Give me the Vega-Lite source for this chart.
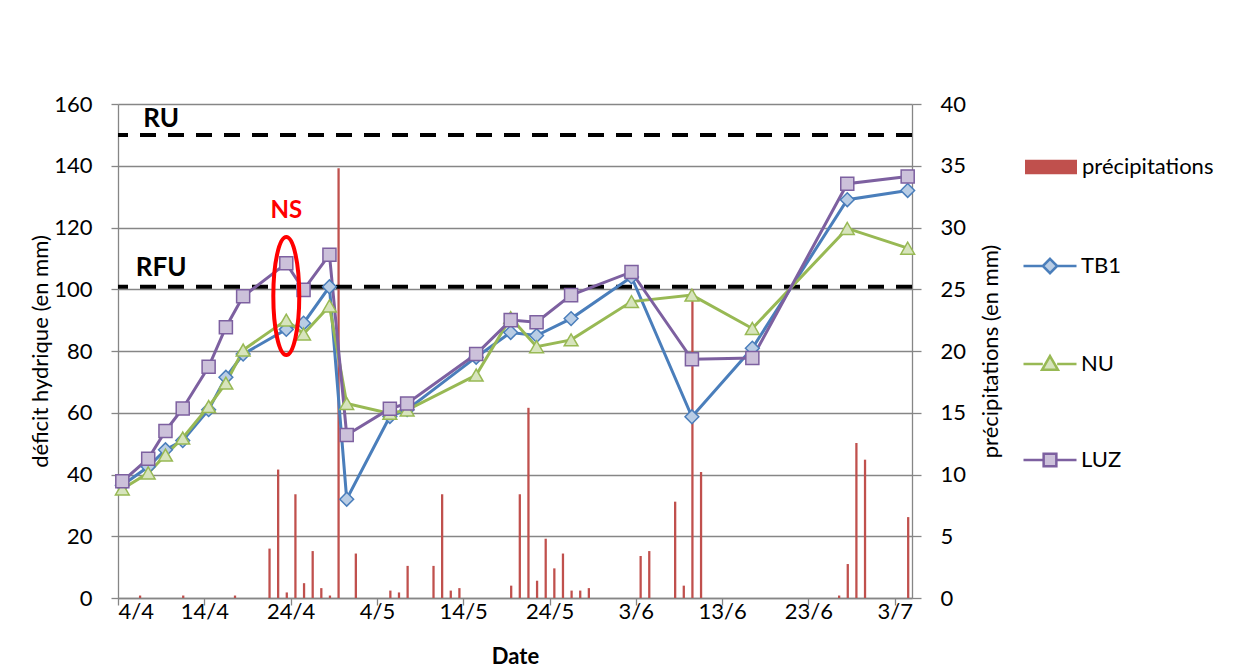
{
  "$schema": "https://vega.github.io/schema/vega-lite/v6.json",
  "width": 794,
  "height": 494,
  "autosize": "none",
  "padding": {"left": 118, "top": 104, "right": 322, "bottom": 70},
  "background": "white",
  "config": {
    "view": {"stroke": null},
    "font": "Lato",
    "axis": {
      "labelFont": "Lato", "labelFontSize": 22, "labelColor": "#000000",
      "titleFont": "Lato", "titleFontSize": 22, "titleColor": "#000000", "titleFontWeight": "normal",
      "domainColor": "#868686", "domainWidth": 1.3, "tickColor": "#868686", "tickWidth": 1.3, "tickSize": 7,
      "gridColor": "#868686", "gridWidth": 1.3
    }
  },
  "datasets": {
    "precip": [
      {"date": "2013-04-06", "mm": 0.2}, {"date": "2013-04-11", "mm": 0.2}, {"date": "2013-04-17", "mm": 0.2},
      {"date": "2013-04-21", "mm": 4.0}, {"date": "2013-04-22", "mm": 10.4}, {"date": "2013-04-23", "mm": 0.45},
      {"date": "2013-04-24", "mm": 8.4}, {"date": "2013-04-25", "mm": 1.2}, {"date": "2013-04-26", "mm": 3.8},
      {"date": "2013-04-27", "mm": 0.8}, {"date": "2013-04-28", "mm": 0.2}, {"date": "2013-04-29", "mm": 34.8},
      {"date": "2013-05-01", "mm": 3.6}, {"date": "2013-05-05", "mm": 0.6}, {"date": "2013-05-06", "mm": 0.45},
      {"date": "2013-05-07", "mm": 2.6}, {"date": "2013-05-10", "mm": 2.6}, {"date": "2013-05-11", "mm": 8.4},
      {"date": "2013-05-12", "mm": 0.6}, {"date": "2013-05-13", "mm": 0.8}, {"date": "2013-05-19", "mm": 1.0},
      {"date": "2013-05-20", "mm": 8.4}, {"date": "2013-05-21", "mm": 15.4}, {"date": "2013-05-22", "mm": 1.4},
      {"date": "2013-05-23", "mm": 4.8}, {"date": "2013-05-24", "mm": 2.4}, {"date": "2013-05-25", "mm": 3.6},
      {"date": "2013-05-26", "mm": 0.6}, {"date": "2013-05-27", "mm": 0.6}, {"date": "2013-05-28", "mm": 0.8},
      {"date": "2013-06-03", "mm": 3.4}, {"date": "2013-06-04", "mm": 3.8}, {"date": "2013-06-07", "mm": 7.8},
      {"date": "2013-06-08", "mm": 1.0}, {"date": "2013-06-09", "mm": 25.0}, {"date": "2013-06-10", "mm": 10.2},
      {"date": "2013-06-26", "mm": 0.2}, {"date": "2013-06-27", "mm": 2.75}, {"date": "2013-06-28", "mm": 12.55},
      {"date": "2013-06-29", "mm": 11.2}, {"date": "2013-07-04", "mm": 6.55}
    ],
    "deficit": [
      {"date": "2013-04-04", "series": "TB1", "value": 36.5}, {"date": "2013-04-07", "series": "TB1", "value": 42.5},
      {"date": "2013-04-09", "series": "TB1", "value": 48}, {"date": "2013-04-11", "series": "TB1", "value": 51},
      {"date": "2013-04-14", "series": "TB1", "value": 61}, {"date": "2013-04-16", "series": "TB1", "value": 71.5},
      {"date": "2013-04-18", "series": "TB1", "value": 79}, {"date": "2013-04-23", "series": "TB1", "value": 87},
      {"date": "2013-04-25", "series": "TB1", "value": 89}, {"date": "2013-04-28", "series": "TB1", "value": 100.8},
      {"date": "2013-04-30", "series": "TB1", "value": 32}, {"date": "2013-05-05", "series": "TB1", "value": 58.8},
      {"date": "2013-05-07", "series": "TB1", "value": 61}, {"date": "2013-05-15", "series": "TB1", "value": 78},
      {"date": "2013-05-19", "series": "TB1", "value": 86}, {"date": "2013-05-22", "series": "TB1", "value": 85},
      {"date": "2013-05-26", "series": "TB1", "value": 90.5}, {"date": "2013-06-02", "series": "TB1", "value": 104},
      {"date": "2013-06-09", "series": "TB1", "value": 58.7}, {"date": "2013-06-16", "series": "TB1", "value": 80.9},
      {"date": "2013-06-27", "series": "TB1", "value": 129}, {"date": "2013-07-04", "series": "TB1", "value": 132},
      {"date": "2013-04-04", "series": "NU", "value": 35.3}, {"date": "2013-04-07", "series": "NU", "value": 40.5},
      {"date": "2013-04-09", "series": "NU", "value": 46.3}, {"date": "2013-04-11", "series": "NU", "value": 51.8},
      {"date": "2013-04-14", "series": "NU", "value": 62}, {"date": "2013-04-16", "series": "NU", "value": 69.6},
      {"date": "2013-04-18", "series": "NU", "value": 80.3}, {"date": "2013-04-23", "series": "NU", "value": 90},
      {"date": "2013-04-25", "series": "NU", "value": 85.5}, {"date": "2013-04-28", "series": "NU", "value": 94.6},
      {"date": "2013-04-30", "series": "NU", "value": 63}, {"date": "2013-05-05", "series": "NU", "value": 59.8},
      {"date": "2013-05-07", "series": "NU", "value": 60.9}, {"date": "2013-05-15", "series": "NU", "value": 72.2},
      {"date": "2013-05-19", "series": "NU", "value": 90.8}, {"date": "2013-05-22", "series": "NU", "value": 81.4},
      {"date": "2013-05-26", "series": "NU", "value": 83.6}, {"date": "2013-06-02", "series": "NU", "value": 96},
      {"date": "2013-06-09", "series": "NU", "value": 98.1}, {"date": "2013-06-16", "series": "NU", "value": 87.3},
      {"date": "2013-06-27", "series": "NU", "value": 119.7}, {"date": "2013-07-04", "series": "NU", "value": 113.3},
      {"date": "2013-04-04", "series": "LUZ", "value": 37.8}, {"date": "2013-04-07", "series": "LUZ", "value": 45.1},
      {"date": "2013-04-09", "series": "LUZ", "value": 54.1}, {"date": "2013-04-11", "series": "LUZ", "value": 61.4},
      {"date": "2013-04-14", "series": "LUZ", "value": 74.9}, {"date": "2013-04-16", "series": "LUZ", "value": 87.7},
      {"date": "2013-04-18", "series": "LUZ", "value": 97.7}, {"date": "2013-04-23", "series": "LUZ", "value": 108.4},
      {"date": "2013-04-25", "series": "LUZ", "value": 99.8}, {"date": "2013-04-28", "series": "LUZ", "value": 111.2},
      {"date": "2013-04-30", "series": "LUZ", "value": 52.8}, {"date": "2013-05-05", "series": "LUZ", "value": 61.3},
      {"date": "2013-05-07", "series": "LUZ", "value": 63}, {"date": "2013-05-15", "series": "LUZ", "value": 79},
      {"date": "2013-05-19", "series": "LUZ", "value": 90}, {"date": "2013-05-22", "series": "LUZ", "value": 89.3},
      {"date": "2013-05-26", "series": "LUZ", "value": 98.1}, {"date": "2013-06-02", "series": "LUZ", "value": 105.6},
      {"date": "2013-06-09", "series": "LUZ", "value": 77.3}, {"date": "2013-06-16", "series": "LUZ", "value": 77.7},
      {"date": "2013-06-27", "series": "LUZ", "value": 134.2}, {"date": "2013-07-04", "series": "LUZ", "value": 136.5}
    ],
    "levels": [
      {"name": "RU", "level": 150, "date": "2013-04-09", "labelValue": 155},
      {"name": "RFU", "level": 100.8, "date": "2013-04-09", "labelValue": 106.8}
    ],
    "ns": [
      {"label": "NS", "date": "2013-04-23", "labelValue": 125.3, "value": 97.8}
    ]
  },
  "layer": [
    {
      "data": {"name": "precip"},
      "mark": {"type": "bar", "color": "#C0504D", "width": {"band": 0.38}},
      "encoding": {
        "x": {
          "field": "date", "type": "temporal", "timeUnit": "yearmonthdate",
          "scale": {"domain": [{"year": 2013, "month": 4, "date": 4}, {"year": 2013, "month": 7, "date": 5}]},
          "axis": {
            "title": "Date", "titleFontWeight": "bold", "titleY": 58, "titleBaseline": "middle",
            "format": "%-d/%-m", "labelPadding": -4, "grid": false, "domain": true,
            "values": [
              {"year": 2013, "month": 4, "date": 4}, {"year": 2013, "month": 4, "date": 14},
              {"year": 2013, "month": 4, "date": 24}, {"year": 2013, "month": 5, "date": 4},
              {"year": 2013, "month": 5, "date": 14}, {"year": 2013, "month": 5, "date": 24},
              {"year": 2013, "month": 6, "date": 3}, {"year": 2013, "month": 6, "date": 13},
              {"year": 2013, "month": 6, "date": 23}, {"year": 2013, "month": 7, "date": 3}
            ]
          }
        },
        "y": {
          "field": "mm", "type": "quantitative",
          "scale": {"domain": [0, 40], "nice": false},
          "axis": {
            "orient": "right", "title": "précipitations (en mm)", "grid": false,
            "values": [0, 5, 10, 15, 20, 25, 30, 35, 40], "labelPadding": 19, "tickSize": 9,
            "titleAngle": -90, "titleX": 78, "titleY": 247, "titleBaseline": "middle", "titleAlign": "center"
          }
        },
        "fill": {
          "datum": "précipitations", "type": "nominal",
          "scale": {"range": ["#C0504D"]},
          "legend": {
            "title": null, "orient": "none", "legendX": 907, "legendY": 37,
            "symbolType": "M-1,-0.28H1V0.28H-1Z", "symbolSize": 2704, "symbolStrokeWidth": 0,
            "labelFont": "Lato", "labelFontSize": 22, "labelColor": "#000000", "labelOffset": 5, "padding": 0
          }
        }
      }
    },
    {
      "layer": [
        {
          "data": {"name": "levels"},
          "mark": {"type": "rule", "color": "#000000", "strokeWidth": 4, "strokeDash": [16, 12]},
          "encoding": {
            "y": {"field": "level", "type": "quantitative", "scale": {"domain": [0, 160], "nice": false},
              "axis": {"title": "déficit hydrique  (en mm)", "values": [0, 20, 40, 60, 80, 100, 120, 140, 160],
                "grid": true, "labelPadding": 19, "titleAngle": -90, "titleX": -78, "titleY": 247,
                "titleBaseline": "middle", "titleAlign": "center"}}
          }
        },
        {
          "data": {"name": "levels"},
          "mark": {"type": "text", "font": "Lato", "fontSize": 26, "fontWeight": "bold", "color": "#000000"},
          "encoding": {
            "x": {"field": "date", "type": "temporal", "timeUnit": "yearmonthdate"},
            "y": {"field": "labelValue", "type": "quantitative"},
            "text": {"field": "name"}
          }
        },
        {
          "data": {"name": "deficit"},
          "mark": {"type": "line", "strokeWidth": 3},
          "encoding": {
            "x": {"field": "date", "type": "temporal", "timeUnit": "yearmonthdate", "bandPosition": 0.5},
            "y": {"field": "value", "type": "quantitative"},
            "color": {
              "field": "series", "type": "nominal",
              "scale": {"domain": ["TB1", "NU", "LUZ"], "range": ["#4A7EBB", "#98B954", "#7D60A0"]},
              "legend": {
                "title": null, "orient": "none", "legendX": 904, "legendY": 134, "padding": 0,
                "symbolSize": 2809, "symbolStrokeWidth": 2.5, "rowPadding": 57,
                "labelFont": "Lato", "labelFontSize": 22, "labelColor": "#000000", "labelOffset": 3,
                "encoding": {
                  "symbols": {
                    "shape": {"value": {"expr": "datum.value === 'TB1' ? 'M-1,0H-0.27M0.27,0H1M0,-0.27L0.27,0L0,0.27L-0.27,0Z' : datum.value === 'NU' ? 'M-1,0H-0.27M0.27,0H1M0,-0.3L0.3,0.22H-0.3Z' : 'M-1,0H-0.24M0.24,0H1M-0.24,-0.24H0.24V0.24H-0.24Z'"}},
                    "fill": {"value": {"expr": "datum.value === 'TB1' ? '#B9CDE5' : datum.value === 'NU' ? '#D7E4BD' : '#CCC1DA'"}},
                    "fillOpacity": {"value": 1},
                    "strokeWidth": {"value": 2.5}
                  }
                }
              }
            }
          }
        },
        {
          "data": {"name": "deficit"},
          "transform": [{"filter": "datum.series === 'TB1'"}],
          "mark": {"type": "point", "shape": "diamond", "filled": true, "opacity": 1, "size": 190, "strokeWidth": 1.5,
            "fill": "#B9CDE5", "stroke": "#4A7EBB"},
          "encoding": {
            "x": {"field": "date", "type": "temporal", "timeUnit": "yearmonthdate", "bandPosition": 0.5},
            "y": {"field": "value", "type": "quantitative"}
          }
        },
        {
          "data": {"name": "deficit"},
          "transform": [{"filter": "datum.series === 'NU'"}],
          "mark": {"type": "point", "shape": "triangle-up", "filled": true, "opacity": 1, "size": 190, "strokeWidth": 1.5,
            "fill": "#D7E4BD", "stroke": "#98B954"},
          "encoding": {
            "x": {"field": "date", "type": "temporal", "timeUnit": "yearmonthdate", "bandPosition": 0.5},
            "y": {"field": "value", "type": "quantitative"}
          }
        },
        {
          "data": {"name": "deficit"},
          "transform": [{"filter": "datum.series === 'LUZ'"}],
          "mark": {"type": "point", "shape": "square", "filled": true, "opacity": 1, "size": 170, "strokeWidth": 1.5,
            "fill": "#CCC1DA", "stroke": "#7D60A0"},
          "encoding": {
            "x": {"field": "date", "type": "temporal", "timeUnit": "yearmonthdate", "bandPosition": 0.5},
            "y": {"field": "value", "type": "quantitative"}
          }
        },
        {
          "data": {"name": "ns"},
          "mark": {"type": "point", "shape": "M0,-1A0.22,1,0,1,1,0,1A0.22,1,0,1,1,0,-1Z", "size": 13924,
            "filled": false, "stroke": "#FF0000", "strokeWidth": 4, "opacity": 1},
          "encoding": {
            "x": {"field": "date", "type": "temporal", "timeUnit": "yearmonthdate", "bandPosition": 0.5},
            "y": {"field": "value", "type": "quantitative"}
          }
        },
        {
          "data": {"name": "ns"},
          "mark": {"type": "text", "font": "Lato", "fontSize": 24, "fontWeight": "bold", "color": "#FF0000"},
          "encoding": {
            "x": {"field": "date", "type": "temporal", "timeUnit": "yearmonthdate", "bandPosition": 0.5},
            "y": {"field": "labelValue", "type": "quantitative"},
            "text": {"field": "label"}
          }
        }
      ]
    }
  ],
  "resolve": {"scale": {"y": "independent", "fill": "independent"}}
}
